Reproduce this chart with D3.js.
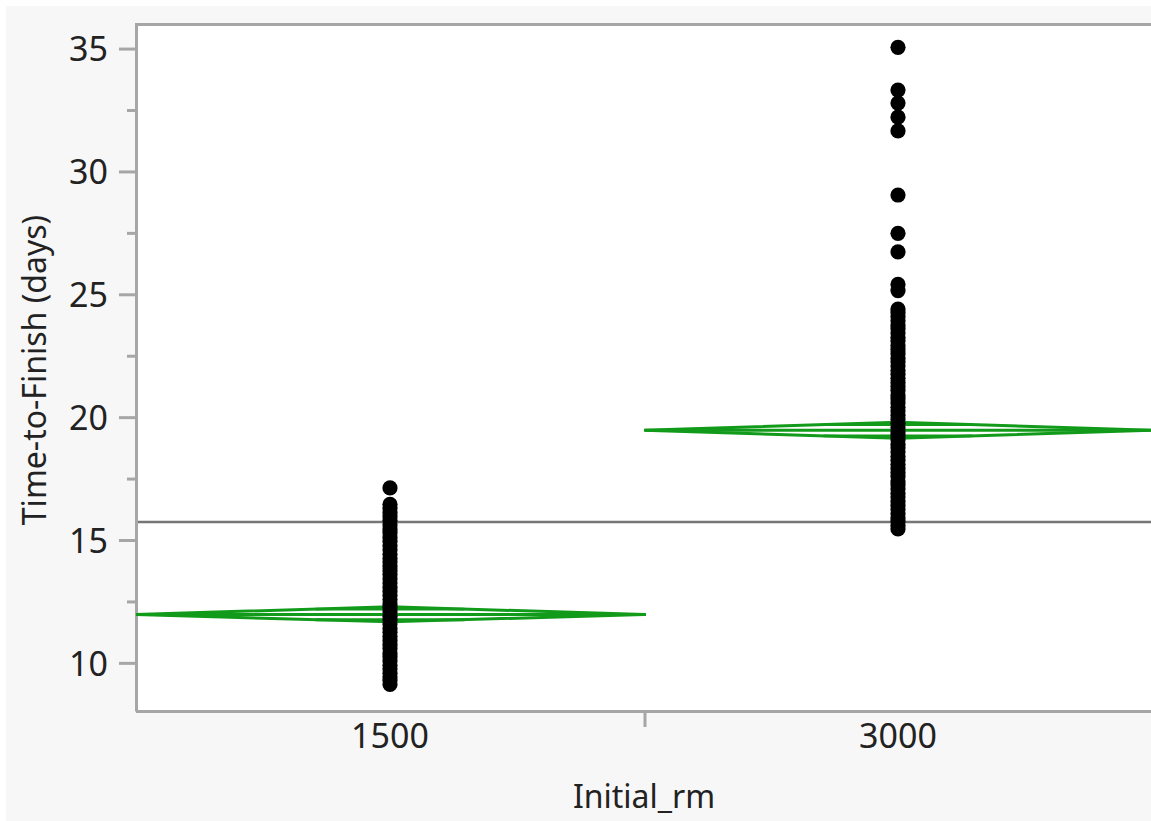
<!DOCTYPE html>
<html>
<head>
<meta charset="utf-8">
<script src="https://cdn.jsdelivr.net/npm/d3@7"></script>
<style>
	html, body { margin: 0; padding: 0; background: #ffffff; }
	svg { display: block; }
	text { font-family: "Noto Sans", "Open Sans", sans-serif; fill: #222222; }
</style>
</head>
<body>
<svg id="chart" width="1151" height="821"></svg>
<script>
// groups on the x axis
var groups = ["1500", "3000"];

// y axis ticks
var yTicks = [10, 15, 20, 25, 30, 35];
var yMinorTicks = [12.5, 17.5, 22.5, 27.5, 32.5];

// Time-to-Finish (days), one column per group
var times1500 = [17.12, 16.45, 16.3, 16.12, 15.95, 15.8, 15.62, 15.45, 15.3, 15.1,
	14.95, 14.78, 14.6, 14.42, 14.25, 14.1, 13.92, 13.75, 13.6, 13.42,
	13.25, 13.08, 12.9, 12.75, 12.58, 12.4, 12.25, 12.08, 11.9, 11.75,
	11.58, 11.4, 11.25, 11.08, 10.9, 10.75, 10.58, 10.4, 10.25, 10.08,
	9.9, 9.75, 9.58, 9.42, 9.28, 9.12];

var times3000 = [35.05, 33.31, 32.78, 32.21, 31.65, 29.04, 27.48, 26.73, 25.4, 25.15,
	24.4, 24.25, 24.1, 23.92, 23.75, 23.6, 23.42, 23.25, 23.1, 22.92,
	22.75, 22.58, 22.4, 22.25, 22.08, 21.9, 21.75, 21.58, 21.4, 21.25,
	21.08, 20.9, 20.75, 20.58, 20.4, 20.25, 20.08, 19.9, 19.75, 19.58,
	19.4, 19.25, 19.08, 18.9, 18.75, 18.58, 18.4, 18.25, 18.08, 17.9,
	17.75, 17.58, 17.4, 17.25, 17.08, 16.9, 16.75, 16.58, 16.4, 16.25,
	16.08, 15.9, 15.75, 15.6, 15.45];

// means diamonds (mean and 95% CI per group) + grand mean
var groupMeans = [11.97, 19.47];
var ciLower = [11.67, 19.14];
var ciUpper = [12.28, 19.79];
var grandMean = 15.73;

var svg = d3.select("#chart"),
	width = +svg.attr("width"),
	height = +svg.attr("height"),
	plot = {left: 136, top: 24, right: 1152, bottom: 712};

var green = "#129a1a",
	frameColor = "#a6a6a6";

// gray panel, white strip top/left
svg.append("rect")
	.attr("x", 6).attr("y", 6)
	.attr("width", width - 6).attr("height", height - 6)
	.attr("fill", "#f7f7f7");

var x = d3.scaleBand()
	.domain(groups)
	.range([plot.left, plot.right]);

var y = d3.scaleLinear()
	.domain([8, 36])
	.range([plot.bottom, plot.top]);

svg.append("rect")
	.attr("x", plot.left).attr("y", plot.top)
	.attr("width", plot.right - plot.left).attr("height", plot.bottom - plot.top)
	.attr("fill", "#ffffff");

// y axis, major and minor ticks
var yAxis = svg.append("g")
	.attr("transform", "translate(" + plot.left + ",0)")
	.call(d3.axisLeft(y).tickValues(yTicks).tickSize(17).tickPadding(11));
yAxis.select(".domain").remove();
yAxis.selectAll("line").attr("stroke", frameColor).attr("stroke-width", 3);
yAxis.selectAll("text")
	.attr("font-size", 34)
	.attr("fill", "#222")
	.attr("dy", "0.36em");

var yMinor = svg.append("g")
	.attr("transform", "translate(" + plot.left + ",0)")
	.call(d3.axisLeft(y).tickValues(yMinorTicks).tickSize(9).tickFormat(""));
yMinor.select(".domain").remove();
yMinor.selectAll("line").attr("stroke", frameColor).attr("stroke-width", 3);

// x axis, labels at group centres, tick between groups
var xAxis = svg.append("g")
	.attr("transform", "translate(0," + plot.bottom + ")")
	.call(d3.axisBottom(x).tickSize(0).tickPadding(12));
xAxis.select(".domain").remove();
xAxis.selectAll("text")
	.attr("font-size", 34)
	.attr("fill", "#222");

svg.append("line")
	.attr("x1", x(groups[1]) + 1).attr("x2", x(groups[1]) + 1)
	.attr("y1", plot.bottom).attr("y2", plot.bottom + 15)
	.attr("stroke", frameColor).attr("stroke-width", 3);

// frame: top, left, bottom (no right side)
svg.append("path")
	.attr("d", "M" + (plot.left + 0.5) + "," + (plot.bottom - 0.5) +
		"V" + (plot.top + 0.5) + "H" + width)
	.attr("fill", "none").attr("stroke", frameColor).attr("stroke-width", 3);
svg.append("line")
	.attr("x1", plot.left).attr("x2", width)
	.attr("y1", plot.bottom - 0.5).attr("y2", plot.bottom - 0.5)
	.attr("stroke", frameColor).attr("stroke-width", 3);

// grand mean
svg.append("line")
	.attr("x1", plot.left + 2).attr("x2", width)
	.attr("y1", y(grandMean)).attr("y2", y(grandMean))
	.attr("stroke", "#767676").attr("stroke-width", 2.5);

// means diamonds
var diamonds = svg.append("g").selectAll("g")
	.data(groups)
	.enter().append("g");

diamonds.append("path")
	.attr("d", function (d, i) {
		var x0 = x(d), x1 = x(d) + x.bandwidth(), xc = x0 + x.bandwidth() / 2;
		return "M" + x0 + "," + y(groupMeans[i]) +
			"L" + xc + "," + y(ciUpper[i]) +
			"L" + x1 + "," + y(groupMeans[i]) +
			"L" + xc + "," + y(ciLower[i]) + "Z";
	})
	.attr("fill", "none")
	.attr("stroke", green)
	.attr("stroke-width", 3);

diamonds.append("line")
	.attr("x1", function (d) { return x(d) + 1; })
	.attr("x2", function (d) { return x(d) + x.bandwidth() + 2; })
	.attr("y1", function (d, i) { return y(groupMeans[i]); })
	.attr("y2", function (d, i) { return y(groupMeans[i]); })
	.attr("stroke", green)
	.attr("stroke-width", 3);

// overlap marks at mean +/- ci/sqrt(2), as wide as the diamond there
[1, -1].forEach(function (side) {
	diamonds.append("line")
		.each(function (d, i) {
			var half = (ciUpper[i] - ciLower[i]) / 2 / Math.SQRT2,
				w = x.bandwidth() / 2 * (1 - 1 / Math.SQRT2),
				xc = x(d) + x.bandwidth() / 2,
				yy = y(groupMeans[i] + side * half);
			d3.select(this)
				.attr("x1", xc - w).attr("x2", xc + w)
				.attr("y1", yy).attr("y2", yy);
		})
		.attr("stroke", green)
		.attr("stroke-width", 2.8);
});

// points
var columns = [times1500, times3000];
columns.forEach(function (values, i) {
	svg.append("g").selectAll("circle")
		.data(values)
		.enter().append("circle")
		.attr("cx", x(groups[i]) + x.bandwidth() / 2)
		.attr("cy", function (d) { return y(d); })
		.attr("r", 7.6)
		.attr("fill", "#000");
});

// axis titles
svg.append("text")
	.attr("transform", "translate(46," + ((plot.top + plot.bottom) / 2 + 2) + ") rotate(-90)")
	.attr("text-anchor", "middle")
	.attr("font-size", 32)
	.text("Time-to-Finish (days)");

svg.append("text")
	.attr("x", (plot.left + plot.right) / 2)
	.attr("y", 808)
	.attr("text-anchor", "middle")
	.attr("font-size", 32)
	.text("Initial_rm");
</script>
</body>
</html>
